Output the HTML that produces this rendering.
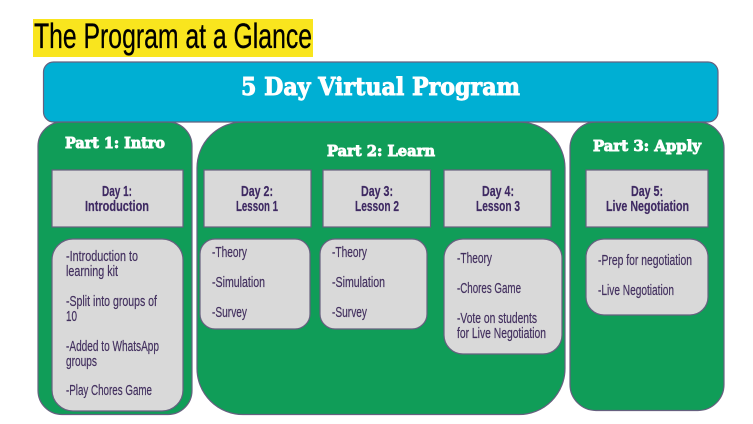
<!DOCTYPE html>
<html>
<head>
<meta charset="utf-8">
<style>
html,body{margin:0;padding:0;background:#fff;width:753px;height:424px;overflow:hidden}
svg{display:block}
.box{stroke:#66607f;stroke-width:1.2}
.t{font-family:"Liberation Sans",sans-serif;font-size:15px;fill:#43305f;stroke:#43305f;stroke-width:.2}
.b{font-family:"Liberation Sans",sans-serif;font-size:15px;font-weight:bold;fill:#3f2a63;stroke:#3f2a63;stroke-width:.2}
.h{font-family:"DejaVu Serif",serif;font-weight:bold;fill:#fff;stroke:#fff;stroke-width:.9}
</style>
</head>
<body>
<svg width="753" height="424" viewBox="0 0 753 424" xmlns="http://www.w3.org/2000/svg">
<rect x="33" y="19" width="280" height="38" fill="#f9e51e"/>
<text x="34" y="48" font-family="Liberation Sans,sans-serif" font-size="35" fill="#000" stroke="#000" stroke-width=".3" textLength="278" lengthAdjust="spacingAndGlyphs">The Program at a Glance</text>

<rect class="box" x="38" y="122" width="154" height="292.500" rx="24" fill="#109d58"/>
<rect class="box" x="197" y="122" width="368" height="292.500" rx="46" fill="#109d58"/>
<rect class="box" x="570" y="122" width="154" height="288.500" rx="26" fill="#109d58"/>
<rect class="box" x="43.500" y="62" width="674.500" height="60" rx="10" fill="#00afd3"/>

<text class="h" x="241" y="95" font-size="24" textLength="279" lengthAdjust="spacingAndGlyphs">5 Day Virtual Program</text>
<text class="h" x="65" y="148" font-size="15" stroke-width=".7" textLength="100" lengthAdjust="spacingAndGlyphs">Part 1: Intro</text>
<text class="h" x="327" y="156" font-size="15" textLength="108" lengthAdjust="spacingAndGlyphs">Part 2: Learn</text>
<text class="h" x="593" y="151" font-size="15" textLength="108" lengthAdjust="spacingAndGlyphs">Part 3: Apply</text>

<g fill="#d9d9d9">
<rect class="box" x="52" y="170" width="131" height="57"/>
<rect class="box" x="204" y="170" width="107" height="57"/>
<rect class="box" x="323" y="170" width="107.500" height="57"/>
<rect class="box" x="444" y="170" width="107" height="57"/>
<rect class="box" x="586" y="170" width="122" height="57"/>
<rect class="box" x="52" y="239" width="131" height="172" rx="21"/>
<rect class="box" x="200" y="239" width="110" height="90" rx="15"/>
<rect class="box" x="320" y="239" width="107" height="90" rx="15"/>
<rect class="box" x="444" y="239" width="118" height="115" rx="19"/>
<rect class="box" x="586" y="239" width="122" height="76" rx="18"/>
</g>

<text class="b" x="102" y="196" textLength="30" lengthAdjust="spacingAndGlyphs">Day 1:</text>
<text class="b" x="85" y="211" textLength="64" lengthAdjust="spacingAndGlyphs">Introduction</text>
<text class="b" x="241" y="196" textLength="32" lengthAdjust="spacingAndGlyphs">Day 2:</text>
<text class="b" x="236" y="211" textLength="42" lengthAdjust="spacingAndGlyphs">Lesson 1</text>
<text class="b" x="361" y="196" textLength="32" lengthAdjust="spacingAndGlyphs">Day 3:</text>
<text class="b" x="355" y="211" textLength="44" lengthAdjust="spacingAndGlyphs">Lesson 2</text>
<text class="b" x="482" y="196" textLength="32" lengthAdjust="spacingAndGlyphs">Day 4:</text>
<text class="b" x="476" y="211" textLength="44" lengthAdjust="spacingAndGlyphs">Lesson 3</text>
<text class="b" x="631" y="196" textLength="32" lengthAdjust="spacingAndGlyphs">Day 5:</text>
<text class="b" x="606" y="211" textLength="83" lengthAdjust="spacingAndGlyphs">Live Negotiation</text>

<text class="t" x="66" y="261" textLength="72" lengthAdjust="spacingAndGlyphs">-Introduction to</text>
<text class="t" x="66" y="276" textLength="52" lengthAdjust="spacingAndGlyphs">learning kit</text>
<text class="t" x="66" y="306" textLength="91" lengthAdjust="spacingAndGlyphs">-Split into groups of</text>
<text class="t" x="66" y="321" textLength="11" lengthAdjust="spacingAndGlyphs">10</text>
<text class="t" x="66" y="351" textLength="93" lengthAdjust="spacingAndGlyphs">-Added to WhatsApp</text>
<text class="t" x="66" y="366" textLength="31" lengthAdjust="spacingAndGlyphs">groups</text>
<text class="t" x="66" y="395" textLength="86" lengthAdjust="spacingAndGlyphs">-Play Chores Game</text>

<text class="t" x="212" y="257" textLength="35" lengthAdjust="spacingAndGlyphs">-Theory</text>
<text class="t" x="212" y="287" textLength="53" lengthAdjust="spacingAndGlyphs">-Simulation</text>
<text class="t" x="212" y="317" textLength="35" lengthAdjust="spacingAndGlyphs">-Survey</text>

<text class="t" x="332" y="257" textLength="35" lengthAdjust="spacingAndGlyphs">-Theory</text>
<text class="t" x="332" y="287" textLength="53" lengthAdjust="spacingAndGlyphs">-Simulation</text>
<text class="t" x="332" y="317" textLength="35" lengthAdjust="spacingAndGlyphs">-Survey</text>

<text class="t" x="457" y="263" textLength="35" lengthAdjust="spacingAndGlyphs">-Theory</text>
<text class="t" x="457" y="293" textLength="64" lengthAdjust="spacingAndGlyphs">-Chores Game</text>
<text class="t" x="457" y="323" textLength="80" lengthAdjust="spacingAndGlyphs">-Vote on students</text>
<text class="t" x="457" y="338" textLength="89" lengthAdjust="spacingAndGlyphs">for Live Negotiation</text>

<text class="t" x="598" y="265" textLength="94" lengthAdjust="spacingAndGlyphs">-Prep for negotiation</text>
<text class="t" x="598" y="295" textLength="76" lengthAdjust="spacingAndGlyphs">-Live Negotiation</text>
</svg>
</body>
</html>
